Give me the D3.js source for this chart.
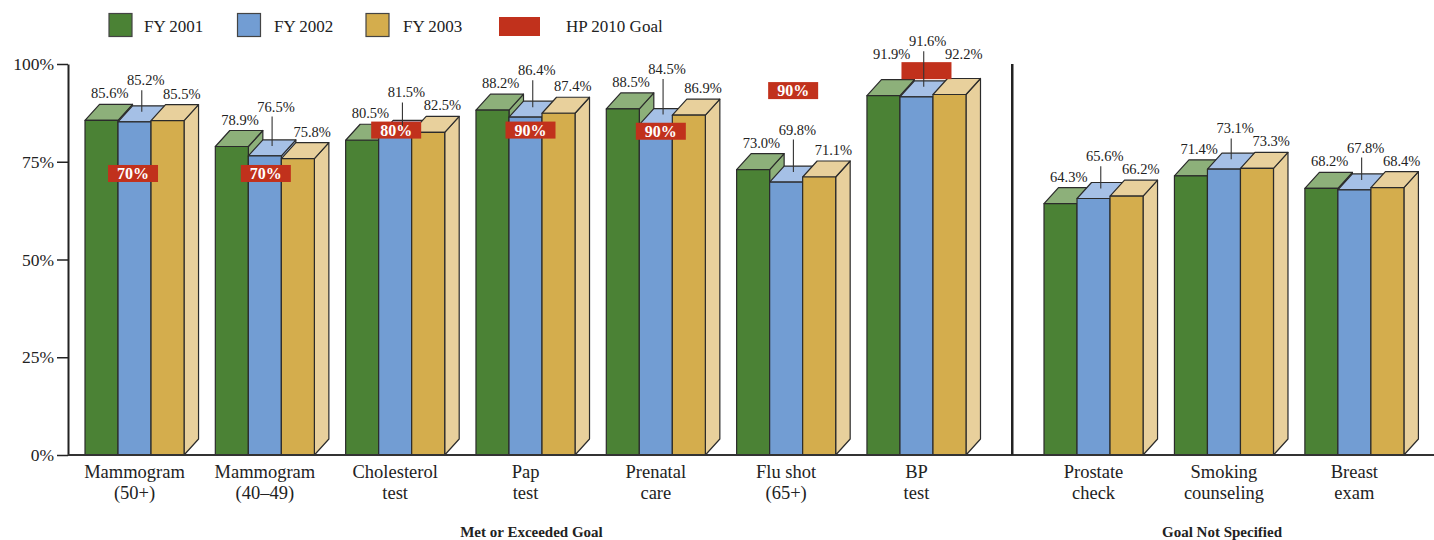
<!DOCTYPE html>
<html>
<head>
<meta charset="utf-8">
<script src="https://cdn.jsdelivr.net/npm/d3@7"></script>
<style>
  body { margin: 0; background: #fff; }
  svg { display: block; }
  text { font-family: "Liberation Serif", "DejaVu Serif", serif; fill: #222; }
</style>
</head>
<body>
<svg id="chart" width="1434" height="540"></svg>
<script>
// ---- data ----
const categories = [
  ["Mammogram", "(50+)"],
  ["Mammogram", "(40\u201349)"],
  ["Cholesterol", "test"],
  ["Pap", "test"],
  ["Prenatal", "care"],
  ["Flu shot", "(65+)"],
  ["BP", "test"],
  ["Prostate", "check"],
  ["Smoking", "counseling"],
  ["Breast", "exam"]
];
const sectionNames = ["Met or Exceeded Goal", "Goal Not Specified"];
const sectionOf = [0, 0, 0, 0, 0, 0, 0, 1, 1, 1];
const seriesNames = ["FY 2001", "FY 2002", "FY 2003"];
const fy2001 = [85.6, 78.9, 80.5, 88.2, 88.5, 73.0, 91.9, 64.3, 71.4, 68.2];
const fy2002 = [85.2, 76.5, 81.5, 86.4, 84.5, 69.8, 91.6, 65.6, 73.1, 67.8];
const fy2003 = [85.5, 75.8, 82.5, 87.4, 86.9, 71.1, 92.2, 66.2, 73.3, 68.4];
const goalName = "HP 2010 Goal";
const goals = [70, 70, 80, 90, 90, 90, 90, null, null, null];
const goalTextShown = [true, true, true, true, true, true, false];
const yTicks = [0, 25, 50, 75, 100];

// ---- styling / layout ----
const frontColor = ["#4b8235", "#729dd3", "#d4ad4d"];
const faceColor  = ["#8db07a", "#a5c0e6", "#e8d09c"];
const goalColor = "#c1311c";
const edge = "#2b2b2b";
const depthX = 14.5, depthY = 16;
// where each goal tag sits (horizontal nudge in px, level in % units)
const goalTagNudge = [-1.5, 1, 1, 5, 5, 7, 10];
const goalTagLevel = [72, 72, 83.1, 83.1, 82.8, 93.2, 98.3];

const svg = d3.select("#chart");
const y = d3.scaleLinear().domain([0, 100]).range([455, 64]);

const idx = d3.range(categories.length);
const sec1 = idx.filter(i => sectionOf[i] === 0);
const sec2 = idx.filter(i => sectionOf[i] === 1);
const xSec = [
  d3.scaleBand().domain(sec1).range([85, 966]).paddingInner(0.24).paddingOuter(0),
  d3.scaleBand().domain(sec2).range([1044, 1404]).paddingInner(0.24).paddingOuter(0)
];
const groupX = i => xSec[sectionOf[i]](i);
const bw = xSec[0].bandwidth();
const xs = d3.scaleBand().domain(seriesNames).range([0, bw]).padding(0);
const barW = xs.bandwidth();
const seriesVals = [fy2001, fy2002, fy2003];

// ---- legend ----
const legendSwatchX = [109, 237.5, 366];
const legendTextX = [144, 274, 403];
const legend = svg.append("g");
seriesNames.forEach((n, s) => {
  legend.append("rect")
    .attr("x", legendSwatchX[s]).attr("y", 13.5).attr("width", 23).attr("height", 23)
    .attr("fill", frontColor[s]).attr("stroke", "#444").attr("stroke-width", 1.2);
  legend.append("text")
    .attr("x", legendTextX[s]).attr("y", 32).attr("font-size", 17).text(n);
});
legend.append("rect")
  .attr("x", 499).attr("y", 17).attr("width", 41).attr("height", 19).attr("fill", goalColor);
legend.append("text")
  .attr("x", 566).attr("y", 32).attr("font-size", 17).text(goalName);

// ---- y axis ----
const yAxis = svg.append("g")
  .attr("transform", "translate(68,0)")
  .call(d3.axisLeft(y).tickValues(yTicks).tickFormat(d => d + "%").tickSize(11).tickSizeOuter(0));
yAxis.select(".domain").attr("stroke", "#222").attr("stroke-width", 2);
yAxis.selectAll(".tick line").attr("stroke", "#222").attr("stroke-width", 1.5);
yAxis.selectAll(".tick text")
  .attr("x", -14).attr("font-size", 17.5)
  .attr("font-family", "Liberation Serif, serif").attr("fill", "#222");

// ---- bars ----
const bars = svg.append("g");
idx.forEach(i => {
  seriesNames.forEach((n, s) => {
    const v = seriesVals[s][i];
    const x0 = groupX(i) + xs(n);
    const yt = y(v), yb = y(0);
    const g = bars.append("g")
      .attr("stroke", edge).attr("stroke-width", 1.2).attr("stroke-linejoin", "round");
    g.append("path")
      .attr("d", `M${x0 + barW},${yt} L${x0 + barW + depthX},${yt - depthY} L${x0 + barW + depthX},${yb - depthY} L${x0 + barW},${yb} Z`)
      .attr("fill", faceColor[s]);
    g.append("path")
      .attr("d", `M${x0},${yt} L${x0 + depthX},${yt - depthY} L${x0 + barW + depthX},${yt - depthY} L${x0 + barW},${yt} Z`)
      .attr("fill", faceColor[s]);
    g.append("rect")
      .attr("x", x0).attr("y", yt).attr("width", barW).attr("height", yb - yt)
      .attr("fill", frontColor[s]);
  });
});

// ---- baseline and section divider ----
const dividerX = (xSec[0].range()[1] + depthX + xSec[1].range()[0]) / 2;
svg.append("line")
  .attr("x1", 68).attr("x2", 1434).attr("y1", y(0)).attr("y2", y(0))
  .attr("stroke", "#333").attr("stroke-width", 2);
svg.append("line")
  .attr("x1", dividerX).attr("x2", dividerX).attr("y1", y(100)).attr("y2", y(0))
  .attr("stroke", "#222").attr("stroke-width", 2.5);

// ---- goal tags ----
const tagW = 50, tagH = 17;
const tags = [];
idx.forEach(i => {
  if (goals[i] == null) return;
  const cx = groupX(i) + bw / 2 + goalTagNudge[i];
  const cy = y(goalTagLevel[i]);
  tags.push({ x0: cx - tagW / 2, x1: cx + tagW / 2, y0: cy - tagH / 2, y1: cy + tagH / 2 });
  svg.append("rect")
    .attr("x", cx - tagW / 2).attr("y", cy - tagH / 2)
    .attr("width", tagW).attr("height", tagH).attr("fill", goalColor);
  if (goalTextShown[i]) {
    svg.append("text")
      .attr("x", cx).attr("y", cy + 5.5)
      .attr("text-anchor", "middle").attr("font-size", 16).attr("font-weight", "bold")
      .style("fill", "#fff").text(goals[i] + "%");
  }
});

// ---- value labels ----
const fmt = d3.format(".1f");
const labelSize = 14.5;
const labels = svg.append("g").attr("font-size", labelSize);
function clearOfTags(cx, base, halfW) {
  let b = base;
  tags.forEach(t => {
    const top = b - 11, bot = b + 3;
    if (cx + halfW > t.x0 && cx - halfW < t.x1 && bot > t.y0 && top < t.y1) b = t.y0 - 3;
  });
  return b;
}
idx.forEach(i => {
  const gx = groupX(i);
  const faceTop = s => y(seriesVals[s][i]) - depthY;
  const faceCx = s => gx + xs(seriesNames[s]) + barW / 2 + depthX / 2;

  const gCx = faceCx(0) + 1;
  const gBase = clearOfTags(gCx, faceTop(0) - 6, 19);
  labels.append("text").attr("x", gCx).attr("y", gBase)
    .attr("text-anchor", "middle").text(fmt(fy2001[i]) + "%");

  const oCx = faceCx(2) + 7;
  const oBase = clearOfTags(oCx, faceTop(2) - 6, 19);
  labels.append("text").attr("x", oCx).attr("y", oBase)
    .attr("text-anchor", "middle").text(fmt(fy2003[i]) + "%");

  const bBase = Math.min(gBase, oBase) - 13;
  const lineX = faceCx(1);
  labels.append("text").attr("x", lineX + 4).attr("y", bBase)
    .attr("text-anchor", "middle").text(fmt(fy2002[i]) + "%");
  labels.append("line")
    .attr("x1", lineX).attr("x2", lineX)
    .attr("y1", bBase + 5).attr("y2", faceTop(1) + depthY / 2 - 2)
    .attr("stroke", "#333").attr("stroke-width", 1.1);
});

// ---- category labels ----
const catG = svg.append("g").attr("font-size", 18.5).attr("text-anchor", "middle");
idx.forEach(i => {
  const cx = groupX(i) + bw / 2;
  categories[i].forEach((line, k) => {
    catG.append("text").attr("x", cx).attr("y", 478 + k * 20.5).text(line);
  });
});

// ---- section labels ----
const sectionNudge = [6, -2];
sectionNames.forEach((name, k) => {
  const r = xSec[k].range();
  svg.append("text")
    .attr("x", (r[0] + r[1]) / 2 + sectionNudge[k]).attr("y", 537)
    .attr("text-anchor", "middle").attr("font-size", 15).attr("font-weight", "bold")
    .text(name);
});
</script>
</body>
</html>
